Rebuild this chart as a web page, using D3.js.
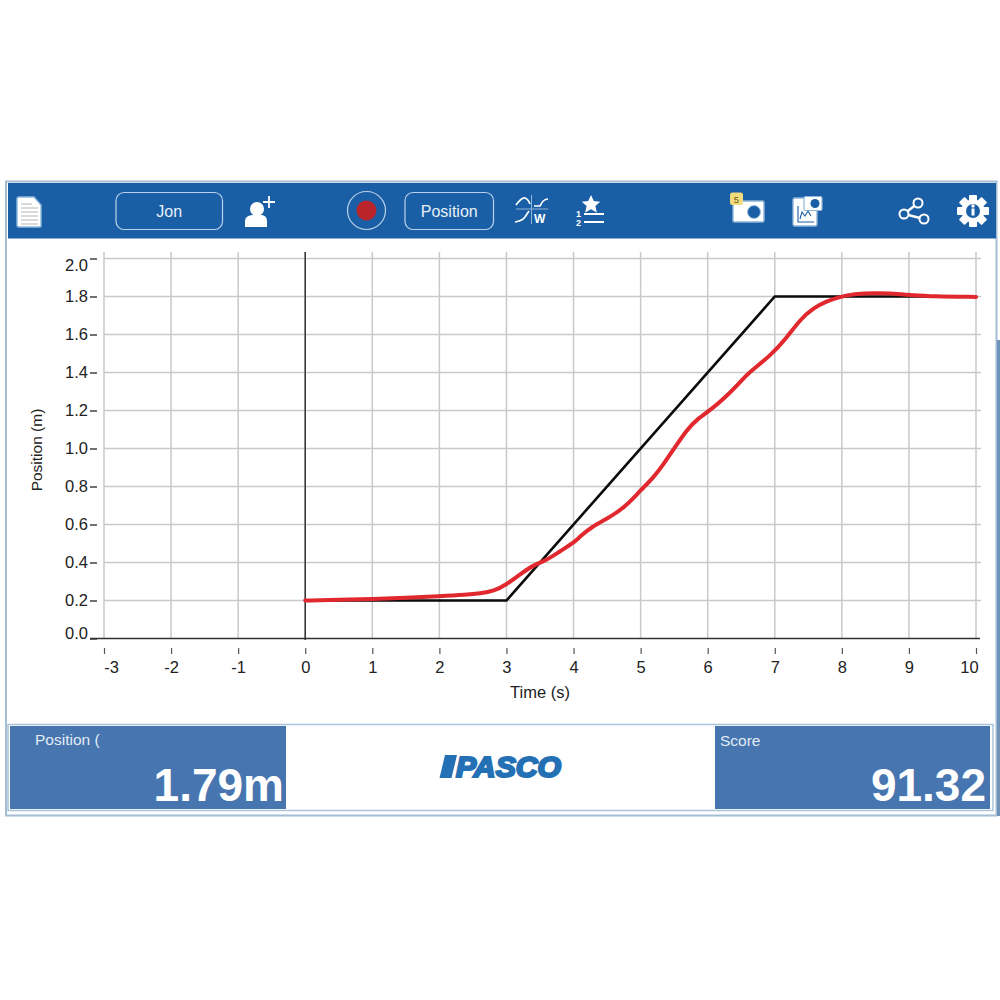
<!DOCTYPE html>
<html>
<head>
<meta charset="utf-8">
<script src="https://cdn.jsdelivr.net/npm/d3@7"></script>
<style>
  html, body { margin: 0; padding: 0; background: #fff; }
  svg { display: block; font-family: "Liberation Sans", Arial, sans-serif; }
</style>
</head>
<body>
<div id="canvas"></div>
<script>
// values
const xTicks = [-3, -2, -1, 0, 1, 2, 3, 4, 5, 6, 7, 8, 9, 10];
const yTicks = [0, 0.2, 0.4, 0.6, 0.8, 1.0, 1.2, 1.4, 1.6, 1.8, 2.0];

const targetTime = [0, 3, 7, 10];
const targetPos = [0.2, 0.2, 1.8, 1.8];

const sensorTime = [0, 0.5, 1, 1.5, 2, 2.4, 2.61, 2.81, 3.0, 3.2, 3.4, 3.6, 3.8, 4.0, 4.1, 4.27, 4.55, 4.77, 5.0, 5.19, 5.34, 5.49, 5.69, 5.84, 6.03, 6.23, 6.48, 6.58, 6.93, 7.18, 7.38, 7.58, 7.77, 7.97, 8.17, 8.52, 8.97, 9.36, 10];
const sensorPos = [0.2, 0.203, 0.208, 0.214, 0.222, 0.23, 0.237, 0.249, 0.284, 0.337, 0.386, 0.412, 0.46, 0.503, 0.538, 0.588, 0.64, 0.693, 0.78, 0.846, 0.916, 0.995, 1.1, 1.153, 1.2, 1.258, 1.346, 1.39, 1.486, 1.583, 1.68, 1.74, 1.775, 1.798, 1.813, 1.819, 1.81, 1.8, 1.798];

const positionLabel = "Position (";
const positionValue = "1.79m";
const scoreLabel = "Score";
const scoreValue = "91.32";
const userName = "Jon";
const measureName = "Position";

const blue = "#1a5fa6";
const panel = "#4675b0";
const logoBlue = "#2470b4";

const svg = d3.select("#canvas").append("svg")
    .attr("width", 1000)
    .attr("height", 1000);

// app frame
svg.append("rect").attr("x", 6).attr("y", 181.5).attr("width", 990.5).attr("height", 634)
    .attr("fill", "#fff").attr("stroke", "#a3bdd4").attr("stroke-width", 2);
svg.append("rect").attr("x", 8).attr("y", 183).attr("width", 988).attr("height", 55.5).attr("fill", blue);
svg.append("rect").attr("x", 997).attr("y", 340).attr("width", 3).attr("height", 476).attr("fill", "#6f93b8");

const x = d3.scaleLinear().domain([-3, 10]).range([104, 976]);
const y = d3.scaleLinear().domain([0, 2]).range([638.5, 258.5]);

// grid
svg.append("g").selectAll("line").data(xTicks).enter().append("line")
    .attr("x1", d => x(d)).attr("x2", d => x(d))
    .attr("y1", 252).attr("y2", 638)
    .attr("stroke", "#c9c9c9").attr("stroke-width", 1.5);
svg.append("g").selectAll("line").data(yTicks.filter(d => d > 0)).enter().append("line")
    .attr("x1", 104).attr("x2", 981)
    .attr("y1", d => y(d)).attr("y2", d => y(d))
    .attr("stroke", "#c9c9c9").attr("stroke-width", 1.5);

// axes
const xAxis = svg.append("g")
    .attr("transform", "translate(0,648)")
    .call(d3.axisBottom(x).tickValues(xTicks).tickFormat(d => String(d)).tickSize(6).tickPadding(7));
xAxis.select(".domain").remove();
xAxis.selectAll("line").attr("stroke", "#555").attr("stroke-width", 1.2);
xAxis.selectAll("text").attr("font-size", 16.5).attr("fill", "#222")
    .attr("font-family", "Liberation Sans")
    .attr("dx", d => d === -3 ? 7 : d === 10 ? -7 : 0);

const yAxis = svg.append("g")
    .attr("transform", "translate(97,0)")
    .call(d3.axisLeft(y).tickValues(yTicks).tickFormat(d3.format(".1f")).tickSize(7).tickPadding(2));
yAxis.select(".domain").remove();
yAxis.selectAll("line").attr("stroke", "#333").attr("stroke-width", 1.4);
yAxis.selectAll("text").attr("font-size", 16.5).attr("fill", "#222")
    .attr("font-family", "Liberation Sans")
    .attr("dy", d => d === 2 ? "0.7em" : d === 0 ? "0.02em" : "0.32em");

svg.append("line").attr("x1", 90).attr("x2", 980).attr("y1", y(0)).attr("y2", y(0))
    .attr("stroke", "#333").attr("stroke-width", 1.5);
svg.append("line").attr("x1", x(0)).attr("x2", x(0)).attr("y1", 252).attr("y2", 640)
    .attr("stroke", "#333").attr("stroke-width", 1.5);

svg.append("text").attr("x", 540).attr("y", 698).attr("text-anchor", "middle")
    .attr("font-size", 16.5).attr("fill", "#222").text("Time (s)");
svg.append("text").attr("transform", "translate(42,450) rotate(-90)").attr("text-anchor", "middle")
    .attr("font-size", 15.5).attr("fill", "#222").text("Position (m)");

// series
svg.append("path")
    .attr("d", d3.line().x(d => x(d)).y((d, i) => y(targetPos[i]))(targetTime))
    .attr("fill", "none").attr("stroke", "#0b0b0b").attr("stroke-width", 2.6);
svg.append("path")
    .attr("d", d3.line().x(d => x(d)).y((d, i) => y(sensorPos[i])).curve(d3.curveBasis)(sensorTime))
    .attr("fill", "none").attr("stroke", "#e0282e").attr("stroke-width", 4).attr("stroke-linecap", "round");

// toolbar buttons
function pill(px, w, label) {
  svg.append("rect").attr("x", px).attr("y", 192.5).attr("width", w).attr("height", 37).attr("rx", 8)
      .attr("fill", "none").attr("stroke", "#b9d2ea").attr("stroke-width", 1.2);
  svg.append("text").attr("x", px + w / 2).attr("y", 217).attr("text-anchor", "middle")
      .attr("font-size", 16).attr("fill", "#e8f0f8").text(label);
}
pill(116, 106.5, userName);
pill(405, 88.5, measureName);

const icons = svg.append("g");
// document
icons.append("path").attr("d", "M19 197h15l7 8v21q0 1-1 1H19q-2 0-2-2v-26q0-2 2-2z")
    .attr("fill", "#fff").attr("stroke", "#8fb8dc").attr("stroke-width", 1.4);
icons.append("path").attr("d", "M21 204h11M21 208h17M21 212h17M21 216h17M21 220h17M21 224h17")
    .attr("stroke", "#b5b5b5").attr("stroke-width", 1).attr("fill", "none");
// add user
icons.append("circle").attr("cx", 257).attr("cy", 209).attr("r", 7).attr("fill", "#fff");
icons.append("path").attr("d", "M245 227v-6q0-5 7-6h10q5 1 5 6v6z").attr("fill", "#fff");
icons.append("path").attr("d", "M269 196v12M263 202h12").attr("stroke", "#fff").attr("stroke-width", 1.8);
// record
icons.append("circle").attr("cx", 366.5).attr("cy", 210.5).attr("r", 19).attr("fill", "none")
    .attr("stroke", "#b9d2ea").attr("stroke-width", 1.2);
icons.append("circle").attr("cx", 366.5).attr("cy", 210.5).attr("r", 10).attr("fill", "#b9232a");
// curve fit
icons.append("path").attr("d", "M531.5 195v29M516 209h32").attr("stroke", "#8fb5d8").attr("stroke-width", 1).attr("fill", "none");
icons.append("path").attr("d", "M516 205q6-8 9-7 3 1 5 6M534 206h6q3-7 8-7M515 222q7-1 10-5l4-6")
    .attr("stroke", "#fff").attr("stroke-width", 1.7).attr("fill", "none");
icons.append("text").attr("x", 534).attr("y", 222.5).attr("font-size", 12).attr("font-weight", "bold").attr("fill", "#fff").text("W");
// leaderboard
icons.append("path").attr("d", "M591 195l2.8 6 6.4.7-4.8 4.3 1.4 6.5-5.8-3.2-5.8 3.2 1.4-6.5-4.8-4.3 6.4-.7z").attr("fill", "#fff");
icons.append("path").attr("d", "M584 214h20M584 222h20").attr("stroke", "#fff").attr("stroke-width", 1.8);
icons.append("text").attr("x", 576).attr("y", 217).attr("font-size", 9).attr("font-weight", "bold").attr("fill", "#fff").text("1");
icons.append("text").attr("x", 576).attr("y", 226).attr("font-size", 9).attr("font-weight", "bold").attr("fill", "#fff").text("2");
// camera with badge
icons.append("rect").attr("x", 733).attr("y", 201).attr("width", 31).attr("height", 21).attr("rx", 1.5)
    .attr("fill", "#fff").attr("stroke", "#8fb5d8").attr("stroke-width", 1.4);
icons.append("circle").attr("cx", 754).attr("cy", 212).attr("r", 6.5).attr("fill", blue).attr("stroke", "#9fc2e2");
icons.append("rect").attr("x", 730).attr("y", 192.5).attr("width", 13).attr("height", 12.5).attr("rx", 2.5).attr("fill", "#f3dc7e");
icons.append("text").attr("x", 736.5).attr("y", 202.5).attr("text-anchor", "middle").attr("font-size", 9.5).attr("fill", "#6b5a10").text("5");
// snapshot of graph
icons.append("rect").attr("x", 793).attr("y", 198).attr("width", 24).attr("height", 28).attr("rx", 2)
    .attr("fill", "#fff").attr("stroke", "#8fb5d8").attr("stroke-width", 1.4);
icons.append("path").attr("d", "M798 206v16h16M800 219l2-7 3 4 3-5 3 5").attr("fill", "none").attr("stroke", blue).attr("stroke-width", 1.1);
icons.append("rect").attr("x", 804).attr("y", 196.5).attr("width", 18).attr("height", 14).attr("rx", 1.5)
    .attr("fill", "#fff").attr("stroke", "#8fb5d8").attr("stroke-width", 1.2);
icons.append("circle").attr("cx", 815).attr("cy", 203.5).attr("r", 4.5).attr("fill", blue);
// share
icons.append("path").attr("d", "M918 203l-14 11 20 5").attr("fill", "none").attr("stroke", "#fff").attr("stroke-width", 2.4);
icons.selectAll(".node").data([[918, 203], [904, 214], [924, 219]]).enter().append("circle")
    .attr("class", "node").attr("cx", d => d[0]).attr("cy", d => d[1]).attr("r", 4.5)
    .attr("fill", blue).attr("stroke", "#fff").attr("stroke-width", 2);
// settings gear
const teeth = d3.range(8).map(i => i * 45);
icons.selectAll(".tooth").data(teeth).enter().append("rect")
    .attr("class", "tooth").attr("x", 969).attr("y", 195).attr("width", 8).attr("height", 8).attr("rx", 1)
    .attr("fill", "#fff").attr("transform", d => `rotate(${d} 973 211)`);
icons.append("circle").attr("cx", 973).attr("cy", 211).attr("r", 11.5).attr("fill", "#fff");
icons.append("circle").attr("cx", 973).attr("cy", 211).attr("r", 7).attr("fill", blue);
icons.append("rect").attr("x", 971.5).attr("y", 208.5).attr("width", 3).attr("height", 7).attr("fill", "#fff");
icons.append("circle").attr("cx", 973).attr("cy", 206).attr("r", 1.7).attr("fill", "#fff");

// footer
svg.append("rect").attr("x", 8).attr("y", 724.5).attr("width", 985).attr("height", 86)
    .attr("fill", "#fff").attr("stroke", "#a9c3da").attr("stroke-width", 1.5);
svg.append("rect").attr("x", 10).attr("y", 726).attr("width", 276).attr("height", 83).attr("fill", panel);
svg.append("rect").attr("x", 715).attr("y", 726).attr("width", 275).attr("height", 83).attr("fill", panel);

svg.append("text").attr("x", 35).attr("y", 745).attr("font-size", 15.5).attr("fill", "#e3ebf4").text(positionLabel);
svg.append("text").attr("x", 720).attr("y", 746).attr("font-size", 15.5).attr("fill", "#e3ebf4").text(scoreLabel);
svg.append("text").attr("x", 284).attr("y", 801).attr("text-anchor", "end")
    .attr("font-size", 46).attr("font-weight", "bold").attr("fill", "#fff").text(positionValue);
svg.append("text").attr("x", 986).attr("y", 801).attr("text-anchor", "end")
    .attr("font-size", 46).attr("font-weight", "bold").attr("fill", "#fff").text(scoreValue);

// logo
svg.append("path").attr("d", "M445 755h12l-5.5 23h-12z").attr("fill", logoBlue);
svg.append("text").attr("x", 456).attr("y", 776.5).attr("font-size", 29).attr("font-weight", "bold").attr("font-style", "italic")
    .attr("textLength", 105).attr("lengthAdjust", "spacingAndGlyphs")
    .attr("fill", logoBlue).attr("stroke", logoBlue).attr("stroke-width", 2.2).text("PASCO");
</script>
</body>
</html>
